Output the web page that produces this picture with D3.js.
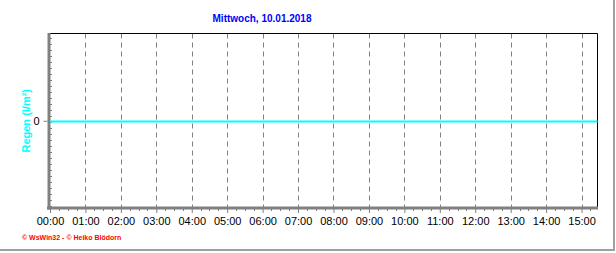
<!DOCTYPE html>
<html>
<head>
<meta charset="utf-8">
<script src="https://cdn.jsdelivr.net/npm/d3@7"></script>
<style>
  body { margin: 0; background: #fff; }
  svg { display: block; }
  text { font-family: Arial, 'Liberation Sans', sans-serif; }
</style>
</head>
<body>
<div id="chart"></div>
<script>
// data
const titleText = 'Mittwoch, 10.01.2018';
const yLabel = 'Regen  (l/m²)';
const footerText = '© WsWin32 - © Heiko Blödorn';
const rainTimes = ['00:00', '01:00', '02:00', '03:00', '04:00', '05:00', '06:00', '07:00',
  '08:00', '09:00', '10:00', '11:00', '12:00', '13:00', '14:00', '15:00', '15:27'];
const rainValues = [0, 0, 0, 0, 0, 0, 0, 0, 0, 0, 0, 0, 0, 0, 0, 0, 0];
const xTickLabels = ['00:00', '01:00', '02:00', '03:00', '04:00', '05:00', '06:00', '07:00',
  '08:00', '09:00', '10:00', '11:00', '12:00', '13:00', '14:00', '15:00'];
const yTicks = [0];

const width = 616, height = 253;
const plotLeft = 49.5, plotRight = 597.5, plotTop = 33.5, plotBottom = 208;

const toHours = s => { const [h, m] = s.split(':').map(Number); return h + m / 60; };
const points = rainTimes.map((t, i) => ({ t: toHours(t), v: rainValues[i] }));

const x = d3.scaleLinear()
  .domain([0, d3.max(points, d => d.t)])
  .range([50, plotRight]);
const y = d3.scaleLinear()
  .domain([-1, 1])
  .range([plotBottom, plotTop]);

const svg = d3.select('#chart').append('svg')
  .attr('width', width)
  .attr('height', height);

// outer frame (right and bottom edges)
svg.append('line')
  .attr('x1', 614).attr('x2', 614).attr('y1', 0).attr('y2', 251)
  .attr('stroke', '#a0a0a0').attr('stroke-width', 2);
svg.append('line')
  .attr('x1', 0).attr('x2', 615).attr('y1', 250).attr('y2', 250)
  .attr('stroke', '#a0a0a0').attr('stroke-width', 2);

// title
svg.append('text')
  .attr('x', 262).attr('y', 22)
  .attr('text-anchor', 'middle')
  .attr('font-size', '10px').attr('font-weight', 'bold')
  .attr('fill', '#0000ff')
  .text(titleText);

// grid lines per hour
const hourTicks = xTickLabels.map(toHours);
svg.append('g')
  .selectAll('line')
  .data(hourTicks.filter(h => h > 0))
  .join('line')
    .attr('x1', d => Math.round(x(d)) + 0.5)
    .attr('x2', d => Math.round(x(d)) + 0.5)
    .attr('y1', plotTop)
    .attr('y2', plotBottom)
    .attr('stroke', '#808080')
    .attr('stroke-dasharray', '5,4');

// top and right border
svg.append('path')
  .attr('d', `M${plotLeft},${plotTop}H${plotRight}V${plotBottom}`)
  .attr('fill', 'none')
  .attr('stroke', '#000')
  .attr('stroke-width', 1);

// x axis: hour ticks with labels, quarter-hour minor ticks
const xAxis = d3.axisBottom(x)
  .tickValues(hourTicks)
  .tickFormat((d, i) => xTickLabels[i])
  .tickSize(4)
  .tickPadding(4);
const gx = svg.append('g')
  .attr('transform', `translate(0, ${plotBottom + 1})`)
  .call(xAxis);
gx.select('.domain').remove();
gx.selectAll('line').attr('stroke', '#808080').attr('stroke-width', 1);
gx.selectAll('text').attr('font-size', '11px').attr('fill', '#000')
  .attr('font-family', 'Arial, "Liberation Sans", sans-serif');

const minorX = d3.range(0, x.domain()[1], 0.25).filter(d => d % 1 !== 0);
svg.append('g')
  .selectAll('line')
  .data(minorX)
  .join('line')
    .attr('x1', d => Math.round(x(d)) + 0.5)
    .attr('x2', d => Math.round(x(d)) + 0.5)
    .attr('y1', plotBottom)
    .attr('y2', plotBottom + 3)
    .attr('stroke', '#808080');

// bottom axis bar
svg.append('line')
  .attr('x1', 47).attr('x2', plotRight + 0.5)
  .attr('y1', plotBottom).attr('y2', plotBottom)
  .attr('stroke', '#808080').attr('stroke-width', 3);

// left axis bar with minor notches
svg.append('line')
  .attr('x1', 49).attr('x2', 49)
  .attr('y1', plotTop - 0.5).attr('y2', plotBottom + 1.5)
  .attr('stroke', '#808080').attr('stroke-width', 3);
svg.append('g')
  .selectAll('line')
  .data(d3.range(plotTop + 4, plotBottom - 2, 6))
  .join('line')
    .attr('x1', 50).attr('x2', 52)
    .attr('y1', d => Math.round(d) + 0.5)
    .attr('y2', d => Math.round(d) + 0.5)
    .attr('stroke', '#808080');

// y axis
const yAxis = d3.axisLeft(y)
  .tickValues(yTicks)
  .tickFormat(d3.format('d'))
  .tickSize(4)
  .tickPadding(4);
const gy = svg.append('g')
  .attr('transform', `translate(${47.5}, 0)`)
  .call(yAxis);
gy.select('.domain').remove();
gy.selectAll('line').attr('stroke', '#808080');
gy.selectAll('text').attr('font-size', '11px').attr('fill', '#000')
  .attr('font-family', 'Arial, "Liberation Sans", sans-serif');

// y label
svg.append('text')
  .attr('transform', `translate(30, ${y(0)}) rotate(-90)`)
  .attr('text-anchor', 'middle')
  .attr('font-size', '11px').attr('font-weight', 'bold')
  .attr('fill', '#00ffff')
  .text(yLabel);

// rain line
const line = d3.line()
  .x(d => x(d.t))
  .y(d => Math.round(y(d.v)) + 0.5);
svg.append('path')
  .datum(points)
  .attr('d', line)
  .attr('fill', 'none')
  .attr('stroke', '#00ffff')
  .attr('stroke-width', 2);

// footer
svg.append('text')
  .attr('x', 22).attr('y', 240)
  .attr('font-size', '7px').attr('font-weight', 'bold')
  .attr('fill', '#ff0000')
  .text(footerText);
</script>
</body>
</html>
